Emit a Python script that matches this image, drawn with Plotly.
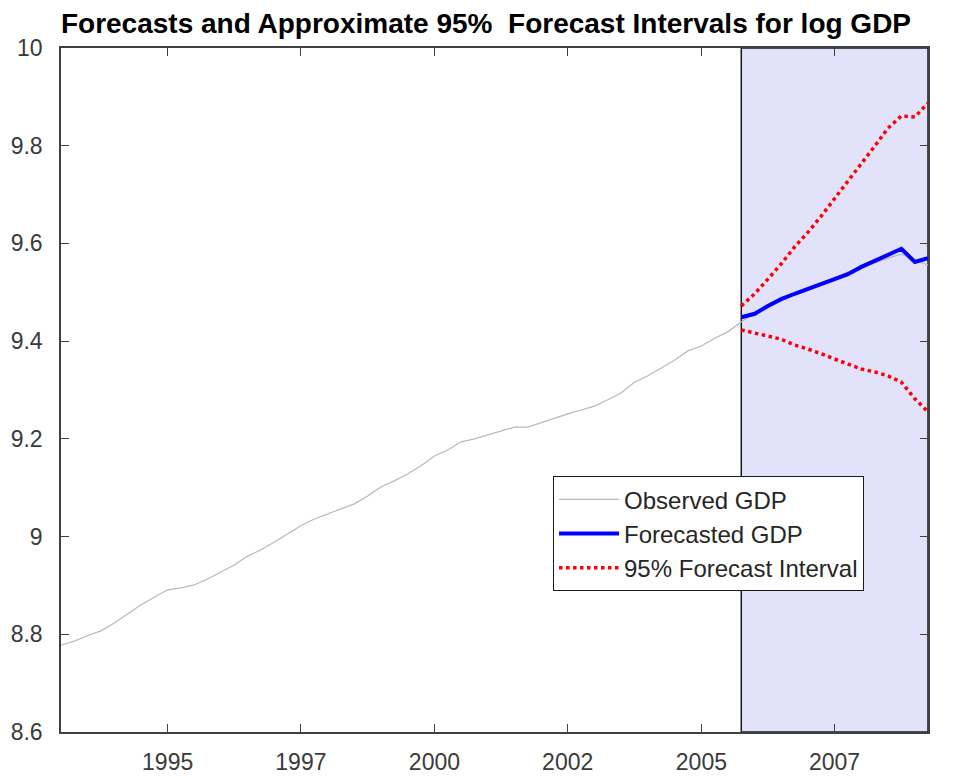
import pandas as pd
import plotly.graph_objects as go

# quarterly dates, 1993Q1 .. 2009Q2
dates = pd.date_range("1993-01-01", periods=66, freq="QS")

observed_gdp = [
    8.778, 8.786, 8.797, 8.807, 8.823, 8.842, 8.860, 8.876, 8.891, 8.895,
    8.901, 8.913, 8.928, 8.942, 8.960, 8.973, 8.989, 9.005, 9.022, 9.036,
    9.046, 9.057, 9.067, 9.083, 9.102, 9.114, 9.128, 9.145, 9.165, 9.177,
    9.194, 9.200, 9.208, 9.216, 9.224, 9.224, 9.233, 9.243, 9.251, 9.259,
    9.267, 9.280, 9.294, 9.316, 9.329, 9.345, 9.361, 9.380, 9.390, 9.406,
    9.419, 9.439, 9.458, 9.472, 9.484, 9.494, 9.505, 9.515, 9.527, 9.542,
    9.550, 9.560, 9.570, 9.578, 9.566, 9.556,
]

forecast_start = 51
forecast_gdp = [
    9.449, 9.456, 9.472, 9.486, 9.497, 9.507, 9.517, 9.527, 9.537, 9.552,
    9.564, 9.578, 9.589, 9.562, 9.570,
]
upper_95 = [
    9.472, 9.497, 9.527, 9.558, 9.593, 9.623, 9.656, 9.691, 9.726, 9.763,
    9.799, 9.836, 9.861, 9.859, 9.887,
]
lower_95 = [
    9.423, 9.417, 9.411, 9.404, 9.392, 9.384, 9.374, 9.363, 9.353, 9.343,
    9.337, 9.329, 9.316, 9.282, 9.255,
]

tick_dates = ["1995-01-01", "1997-07-01", "2000-01-01", "2002-07-01", "2005-01-01", "2007-07-01"]
tick_labels = ["1995", "1997", "2000", "2002", "2005", "2007"]

fdates = dates[forecast_start:]
font_main = "Liberation Sans, Arial, Helvetica, sans-serif"

fig = go.Figure()

# forecast horizon shading
fig.add_shape(
    type="rect", xref="x", yref="paper",
    x0=fdates[0], x1=dates[-1], y0=0, y1=1,
    fillcolor="#E2E2FB", line=dict(color="#1a1a1a", width=1.5),
    layer="below",
)

fig.add_trace(go.Scatter(
    x=dates, y=observed_gdp, mode="lines", name="Observed GDP",
    line=dict(color="#b8b8b8", width=1.2),
))
fig.add_trace(go.Scatter(
    x=fdates, y=forecast_gdp, mode="lines", name="Forecasted GDP",
    line=dict(color="#0000ff", width=4),
))
fig.add_trace(go.Scatter(
    x=fdates, y=upper_95, mode="lines", name="95% Forecast Interval",
    line=dict(color="#ff0000", width=3.5, dash="dot"),
))
fig.add_trace(go.Scatter(
    x=fdates, y=lower_95, mode="lines", showlegend=False,
    line=dict(color="#ff0000", width=3.5, dash="dot"),
))

axis_common = dict(
    showline=True, linecolor="#404040", linewidth=1.5, mirror="ticks",
    ticks="inside", ticklen=8, tickwidth=1.2, tickcolor="#404040",
    showgrid=False, zeroline=False, automargin=False,
    tickfont=dict(family=font_main, size=23, color="#3a3a3a"),
)

fig.update_layout(
    width=956, height=776,
    margin=dict(l=53, r=36, t=40, b=52, autoexpand=False),
    paper_bgcolor="white", plot_bgcolor="white",
    title=dict(
        text="<b>Forecasts and Approximate 95%  Forecast Intervals for log GDP</b>",
        font=dict(family=font_main, size=28, color="black"),
        x=0.5, xref="container", xanchor="center",
        y=0.98, yref="container", yanchor="middle",
        automargin=False,
    ),
    xaxis=dict(
        axis_common, type="date", range=[dates[0], dates[-1]],
        tickvals=tick_dates, ticktext=tick_labels, ticklabelstandoff=9,
    ),
    yaxis=dict(
        axis_common, range=[8.6, 10], dtick=0.2, tick0=8.6, ticklabelstandoff=12,
    ),
    legend=dict(
        x=0.5675, y=0.374, xanchor="left", yanchor="top",
        bgcolor="white", bordercolor="#1a1a1a", borderwidth=1,
        font=dict(family=font_main, size=24, color="#262626"),
        tracegroupgap=0, itemwidth=60,
    ),
    showlegend=True,
)

fig.write_html("out.html")
